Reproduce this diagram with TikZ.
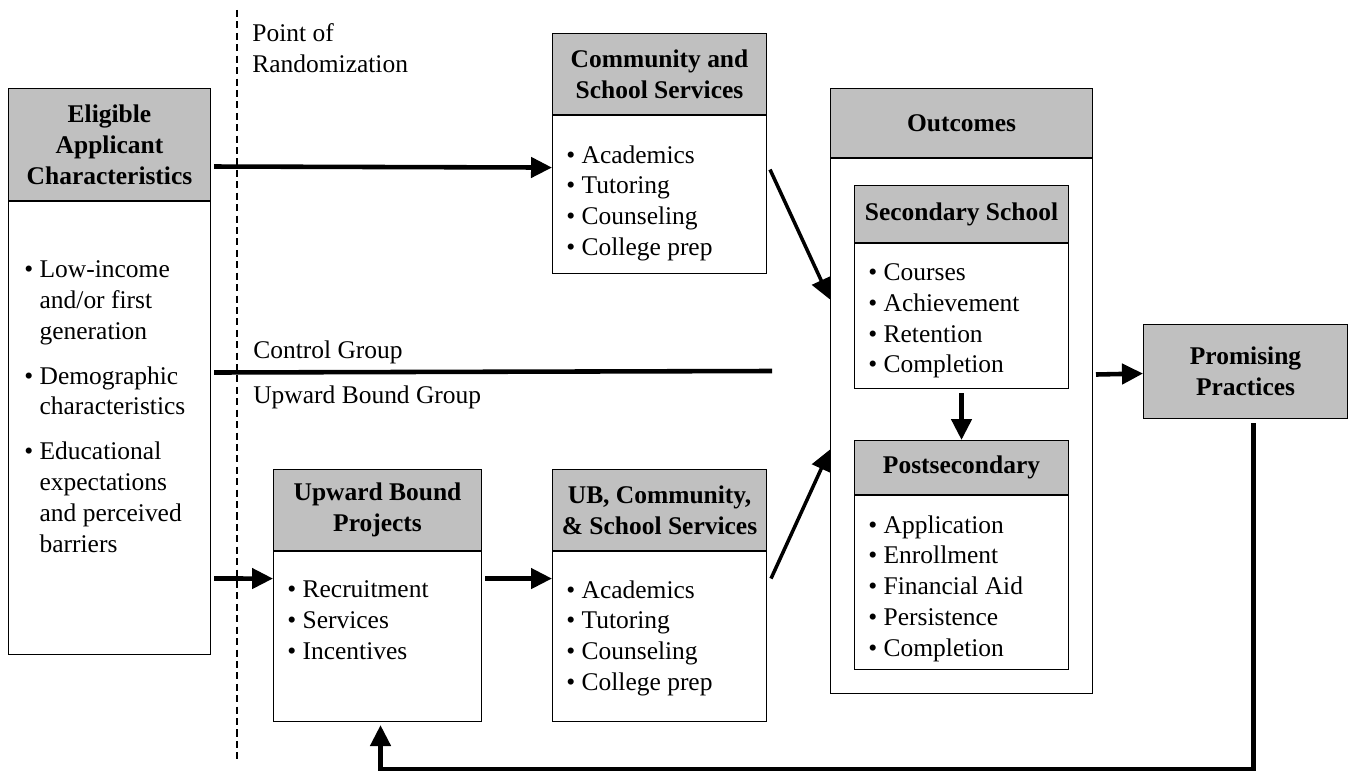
\documentclass[tikz,border=0pt]{standalone}
\usepackage{fontspec}
\setmainfont{Liberation Serif}
\usetikzlibrary{positioning,arrows.meta}

\definecolor{hdrgray}{RGB}{192,192,192}
\newcommand{\dgmfont}{\fontsize{14.5}{17.6}\selectfont}
\tikzset{
  hdr/.style={draw, line width=0.6pt, fill=hdrgray, font=\dgmfont\bfseries, align=center, inner sep=0pt, anchor=north west},
  bdy/.style={draw, line width=0.6pt, inner sep=0pt},
  itm/.style={anchor=north west, align=left, inner sep=0pt},
  lbl/.style={anchor=west, inner sep=0pt},
  flow/.style={-{Triangle[length=0.42cm,width=0.4cm]}, line width=2.6pt},
  slant/.style={-{Triangle[length=0.42cm,width=0.4cm]}, line width=2pt},
}
\newcommand{\bul}{\textbullet\ }
\newcommand{\ind}{\phantom{\textbullet\ }}

\begin{document}
\begin{tikzpicture}[x=0.02cm, y=-0.02cm, font=\dgmfont]
\useasboundingbox (0,0) rectangle (1351,783);

% randomization line
\draw[line width=0.6pt, dash pattern=on 4pt off 2.5pt] (237,10) -- (237,762);
\node (rand) [itm, align=left] at (252,23) {Point of\\Randomization};

% eligible applicants
\node (elig-h) [hdr, minimum width=4.04cm, minimum height=2.24cm] at (8,88) {Eligible\\Applicant\\Characteristics};
\node (elig-b) [bdy, minimum width=4.04cm, minimum height=9.06cm, below=0pt of elig-h] {};
\node (elig-t) [itm] at (24,260) {\bul Low-income\\ \ind and/or first\\ \ind generation\\[8pt]
  \bul Demographic\\ \ind characteristics\\[8pt]
  \bul Educational\\ \ind expectations\\ \ind and perceived\\ \ind barriers};

% community and school services
\node (cs-h) [hdr, minimum width=4.28cm, minimum height=1.62cm] at (552,33) {Community and\\School Services};
\node (cs-b) [bdy, minimum width=4.28cm, minimum height=3.16cm, below=0pt of cs-h] {};
\node (cs-t) [itm] at (566,145) {\bul Academics\\ \bul Tutoring\\ \bul Counseling\\ \bul College prep};

% upward bound projects
\node (ubp-h) [hdr, minimum width=4.16cm, minimum height=1.62cm] at (273,469) {Upward Bound\\Projects};
\node (ubp-b) [bdy, minimum width=4.16cm, minimum height=3.40cm, below=0pt of ubp-h] {};
\node (ubp-t) [itm] at (287,580) {\bul Recruitment\\ \bul Services\\ \bul Incentives};

% UB, community and school services
\node (ubc-h) [hdr, minimum width=4.28cm, minimum height=1.62cm] at (552,469) {UB, Community,\\\& School Services};
\node (ubc-b) [bdy, minimum width=4.28cm, minimum height=3.40cm, below=0pt of ubc-h] {};
\node (ubc-t) [itm] at (566,580) {\bul Academics\\ \bul Tutoring\\ \bul Counseling\\ \bul College prep};

% outcomes
\node (out-h) [hdr, minimum width=5.24cm, minimum height=1.38cm] at (830,88) {Outcomes};
\node (out-b) [bdy, minimum width=5.24cm, minimum height=10.70cm, below=0pt of out-h] {};
\node (ss-h) [hdr, minimum width=4.28cm, minimum height=1.14cm] at (854,185) {Secondary School};
\node (ss-b) [bdy, minimum width=4.28cm, minimum height=2.90cm, below=0pt of ss-h] {};
\node (ss-t) [itm] at (868,263) {\bul Courses\\ \bul Achievement\\ \bul Retention\\ \bul Completion};
\node (ps-h) [hdr, minimum width=4.28cm, minimum height=1.08cm] at (854,440) {Postsecondary};
\node (ps-b) [bdy, minimum width=4.28cm, minimum height=3.48cm, below=0pt of ps-h] {};
\node (ps-t) [itm] at (868,515) {\bul Application\\ \bul Enrollment\\ \bul Financial Aid\\ \bul Persistence\\ \bul Completion};

% promising practices
\node (pp) [hdr, minimum width=4.08cm, minimum height=1.88cm] at (1143,324) {Promising\\Practices};

% groups
\coordinate (ctrl-end) at (772,371);
\node (ctrl) [lbl] at (253,352) {Control Group};
\node (ubg) [lbl] at (253,397) {Upward Bound Group};

% connectors
\draw[flow] ([shift={(3,22)}]elig-h.east) -- ([shift={(0,-27)}]cs-b.west);
\draw[line width=2.6pt] ([shift={(3,-55.5)}]elig-b.east) -- (ctrl-end);
\draw[flow] ([shift={(3,150.5)}]elig-b.east) -- ([shift={(0,-58)}]ubp-b.west);
\draw[flow] ([shift={(3,-58)}]ubp-b.east) -- ([shift={(0,-58)}]ubc-b.west);
\draw[slant] ([shift={(3,-25)}]cs-b.east) -- ([shift={(0,-126.5)}]out-b.west);
\draw[slant] ([shift={(4,-58)}]ubc-b.east) -- ([shift={(0,23.5)}]out-b.west);
\draw[flow] ([shift={(0,4)}]ss-b.south) -- (ps-h.north);
\draw[flow] ([shift={(3,-51.5)}]out-b.east) -- ([shift={(0,2)}]pp.west);
\draw[flow] ([shift={(8,4)}]pp.south) -- ++(0,346) -| ([shift={(3,3)}]ubp-b.south);
\end{tikzpicture}
\end{document}
